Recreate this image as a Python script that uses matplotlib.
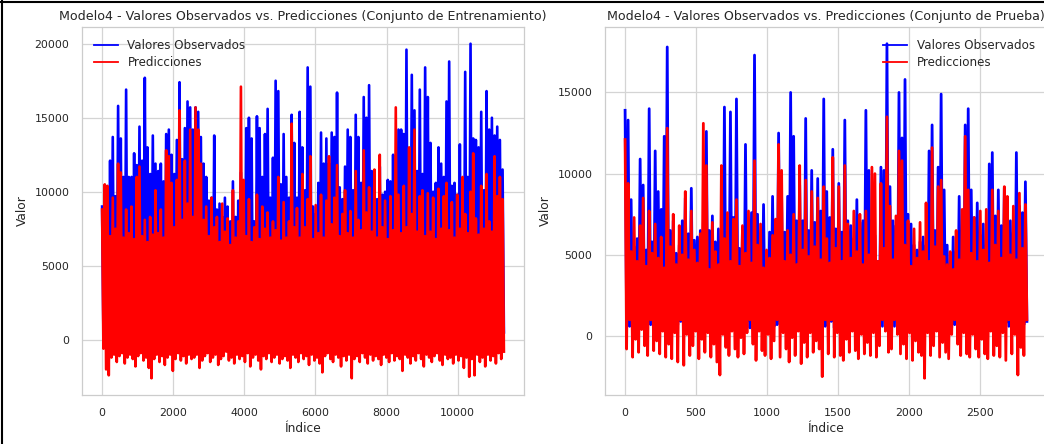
import numpy as np
import matplotlib
matplotlib.use("Agg")
import matplotlib.pyplot as plt
from matplotlib.lines import Line2D

# ---------------- data (values in thousands) ----------------
n_train = 11300
n_test = 2830

# training set: per-window maxima / minima, in index order
train_obs_top = [
    9.0, 10.4, 9.4, 12.1, 13.7, 9.7, 15.8, 13.6, 11.0, 16.9,
    11.0, 11.0, 12.6, 11.8, 14.4, 12.1, 17.7, 13.0, 11.2, 13.8,
    11.9, 11.4, 11.9, 10.7, 13.9, 14.2, 12.5, 11.2, 13.5, 17.4,
    12.2, 14.3, 16.1, 15.7, 14.2, 15.7, 15.4, 13.7, 11.9, 11.0,
    9.4, 9.6, 13.8, 8.8, 9.2, 8.3, 9.6, 9.0, 8.0, 10.7,
    8.3, 9.4, 11.3, 8.5, 14.3, 15.0, 13.6, 8.0, 15.1, 14.3,
    11.0, 13.9, 15.6, 9.6, 12.3, 17.5, 16.8, 10.5, 13.9, 11.0,
    9.6, 15.2, 13.3, 9.6, 15.4, 13.0, 10.1, 18.4, 17.1, 9.0,
    8.5, 10.6, 14.0, 11.9, 13.6, 11.9, 14.0, 13.7, 16.7, 10.3,
    9.5, 11.7, 14.2, 13.7, 10.1, 15.2, 13.7, 10.6, 16.4, 15.0,
    17.2, 11.4, 11.0, 9.5, 11.7, 9.8, 10.0, 10.8, 10.7, 12.5,
    10.5, 14.2, 14.2, 13.9, 19.6, 11.0, 17.9, 15.5, 11.4, 16.9,
    11.2, 18.4, 16.4, 13.3, 10.0, 10.6, 13.0, 11.9, 11.0, 16.1,
    18.8, 10.4, 10.6, 9.8, 13.2, 10.8, 18.1, 11.0, 20.0, 13.6,
    13.5, 13.0, 15.4, 10.1, 16.8, 14.2, 15.0, 13.8, 14.4, 13.5,
    11.5,
]
train_obs_bottom = [
    0.4, 0.6, 0.3, 0.8, 0.5, 0.7, 0.4, 0.9, 0.6, 0.3,
    0.7, 0.5, 0.8, 0.4, 0.6, 0.3, 0.9, 0.5, 0.7, 0.4,
    0.6, 0.8, 0.3, 0.5, 0.7, 0.4, 0.9, 0.6, 0.3, 0.8,
    0.5, 0.7, 0.4, 0.6, 0.9, 0.3, 0.5, 0.8, 0.4, 0.7,
    0.6, 0.3, 0.8, 0.5, 0.4, 0.7, 0.9, 0.6, 0.3, 0.5,
    0.8, 0.4, 0.6, 0.7, 0.3, 0.9, 0.5, 0.4, 0.8, 0.6,
    0.3, 0.7, 0.5, 0.9, 0.4, 0.6, 0.8, 0.3, 0.5, 0.7,
    0.4, 0.9, 0.6, 0.3, 0.8, 0.5, 0.7, 0.4, 0.6, 0.3,
    0.9, 0.5, 0.8, 0.4, 0.7, 0.6, 0.3, 0.5, 0.9, 0.4,
    0.7, 0.6, 0.3, 0.8, 0.5, 0.4, 0.9, 0.6, 0.7, 0.3,
    0.5, 0.8, 0.4, 0.6, 0.3, 0.7, 0.9, 0.5, 0.4, 0.8,
    0.6, 0.3, 0.7, 0.5, 0.9, 0.4, 0.6, 0.8, 0.3, 0.5,
    0.7, 0.4, 0.9, 0.6, 0.3, 0.8, 0.5, 0.7, 0.4, 0.6,
    0.3, 0.9, 0.5, 0.8, 0.4, 0.7, 0.6, 0.3, 0.5, 0.9,
    0.4, 0.7, 0.6, 0.3, 0.8, 0.5, 0.4, 0.9, 0.6, 0.7,
    0.5,
]
train_pred_top = [
    8.8, 10.5, 10.4, 7.0, 9.6, 7.5, 11.9, 11.3, 6.9, 8.8,
    7.2, 9.0, 6.8, 11.0, 11.7, 7.0, 8.1, 6.6, 8.3, 7.1,
    10.1, 7.2, 8.8, 6.9, 12.8, 12.4, 10.6, 7.6, 10.8, 15.5,
    8.1, 12.1, 9.2, 14.2, 8.3, 15.7, 14.2, 11.9, 8.1, 9.0,
    7.0, 9.6, 7.6, 8.3, 6.6, 9.2, 7.3, 8.2, 6.4, 10.1,
    6.9, 8.0, 17.1, 10.8, 7.0, 9.5, 6.6, 7.6, 9.8, 6.8,
    9.0, 7.5, 8.6, 6.9, 8.0, 7.4, 11.0, 6.7, 9.3, 6.9,
    8.0, 14.6, 7.6, 8.9, 6.9, 11.2, 7.6, 9.5, 12.4, 6.8,
    9.1, 7.2, 9.8, 6.9, 9.4, 12.4, 7.8, 9.6, 11.8, 7.0,
    8.5, 10.1, 7.2, 8.7, 6.9, 11.4, 8.1, 7.4, 12.8, 8.6,
    10.3, 7.3, 11.5, 6.9, 12.5, 7.6, 9.4, 6.8, 9.7, 7.4,
    15.7, 9.8, 7.2, 10.4, 7.6, 13.0, 8.5, 14.2, 7.3, 9.7,
    10.1, 7.0, 9.9, 7.3, 9.6, 6.8, 10.2, 7.5, 9.7, 10.6,
    7.4, 9.3, 6.9, 9.8, 7.5, 11.0, 8.5, 7.2, 10.0, 12.6,
    8.2, 7.1, 10.4, 7.5, 11.2, 8.0, 7.3, 12.4, 9.7, 11.0,
    9.5,
]
train_pred_bottom = [
    -0.6, -2.0, -2.4, -1.2, -1.0, -1.5, -1.1, -0.9, -1.6, -1.2,
    -1.0, -1.3, -1.8, -1.1, -0.9, -1.4, -1.2, -1.9, -2.6, -1.3,
    -1.0, -1.5, -1.1, -1.7, -1.2, -1.0, -2.1, -1.3, -0.9, -1.4,
    -1.1, -1.6, -1.0, -1.3, -1.2, -1.0, -1.9, -1.4, -1.1, -0.9,
    -1.5, -1.2, -1.0, -1.7, -1.3, -1.1, -0.8, -1.4, -1.2, -1.6,
    -1.0, -1.3, -1.1, -1.5, -0.9, -1.8, -1.2, -1.0, -1.4, -2.0,
    -1.1, -1.3, -0.9, -1.5, -1.2, -1.0, -1.6, -1.3, -1.1, -1.4,
    -1.9, -1.0, -1.2, -1.5, -0.9, -1.3, -1.1, -1.7, -1.0, -1.4,
    -1.2, -1.6, -2.2, -1.1, -0.9, -1.3, -1.5, -1.0, -1.2, -1.8,
    -1.1, -1.4, -1.0, -2.6, -1.3, -1.1, -1.5, -0.9, -1.2, -1.6,
    -1.0, -1.4, -1.1, -1.3, -1.7, -1.0, -1.2, -1.5, -0.9, -1.4,
    -1.1, -1.3, -2.1, -1.0, -1.2, -1.6, -1.1, -1.4, -0.9, -1.3,
    -1.8, -1.0, -1.2, -1.5, -1.1, -0.9, -1.4, -1.7, -1.0, -1.3,
    -1.2, -1.6, -1.0, -1.4, -1.1, -1.9, -1.2, -2.5, -1.3, -2.4,
    -1.0, -1.5, -1.2, -1.8, -1.0, -1.4, -1.1, -1.6, -0.9, -1.3,
    -0.8,
]

# test set
test_obs_top = [
    13.9, 13.3, 8.4, 5.5, 6.0, 10.9, 9.3, 5.3, 14.0, 5.8,
    11.4, 8.9, 7.8, 12.3, 17.8, 6.5, 7.1, 5.1, 5.6, 7.1,
    8.5, 6.3, 9.1, 5.9, 6.1, 6.5, 7.0, 12.6, 6.5, 7.4,
    5.8, 6.6, 5.6, 14.1, 6.2, 13.8, 7.3, 14.6, 5.4, 6.7,
    11.8, 6.0, 7.6, 17.3, 7.5, 6.3, 8.1, 5.2, 6.4, 8.6,
    7.0, 12.5, 8.6, 6.4, 8.6, 15.0, 12.3, 7.1, 9.3, 7.1,
    13.4, 6.5, 10.2, 7.0, 9.7, 7.7, 14.6, 8.9, 7.3, 11.5,
    6.6, 9.4, 6.4, 13.3, 7.1, 6.8, 6.0, 8.4, 7.0, 7.1,
    13.9, 10.2, 7.1, 6.2, 4.6, 10.4, 10.2, 18.0, 9.2, 7.1,
    6.8, 15.0, 12.2, 15.8, 7.5, 6.9, 5.6, 5.3, 5.8, 6.1,
    5.6, 11.4, 13.0, 6.5, 10.4, 14.9, 9.0, 5.6, 4.3, 6.1,
    5.2, 8.6, 6.5, 13.0, 14.0, 9.0, 7.3, 8.2, 6.2, 6.9,
    5.6, 10.6, 11.3, 7.4, 9.0, 6.8, 9.1, 7.0, 7.1, 6.4,
    11.3, 8.0, 7.6, 9.5,
]
test_obs_bottom = [
    0.9, 0.6, 0.8, 0.5, 0.7, 0.9, 0.6, 0.8, 0.7, 0.5,
    0.8, 0.6, 0.9, 0.7, 0.5, 0.8, 0.6, 0.7, 0.9, 0.5,
    0.7, 0.8, 0.6, 0.9, 0.5, 0.7, 0.8, 0.6, 0.7, 0.9,
    0.5, 0.8, 0.6, 0.7, 0.9, 0.6, 0.5, 0.8, 0.7, 0.6,
    0.9, 0.5, 0.7, 0.8, 0.6, 0.9, 0.7, 0.5, 0.8, 0.6,
    0.7, 0.9, 0.6, 0.5, 0.8, 0.7, 0.6, 0.9, 0.5, 0.7,
    0.8, 0.6, 0.9, 0.7, 0.5, 0.8, 0.6, 0.7, 0.9, 0.5,
    0.7, 0.8, 0.6, 0.9, 0.5, 0.7, 0.8, 0.6, 0.7, 0.9,
    0.5, 0.8, 0.6, 0.7, 0.9, 0.6, 0.5, 0.8, 0.7, 0.6,
    0.9, 0.5, 0.7, 0.8, 0.6, 0.9, 0.7, 0.5, 0.8, 0.6,
    0.7, 0.9, 0.6, 0.5, 0.8, 0.7, 0.6, 0.9, 0.5, 0.7,
    0.8, 0.6, 0.9, 0.7, 0.5, 0.8, 0.6, 0.7, 0.9, 0.5,
    0.7, 0.8, 0.6, 0.9, 0.5, 0.7, 0.8, 0.6, 0.7, 0.9,
    0.6, 0.8, 0.7, 0.9,
]
test_pred_top = [
    12.1, 9.4, 5.2, 7.3, 4.6, 6.8, 8.5, 4.3, 7.7, 5.1,
    6.9, 4.8, 6.1, 4.2, 12.8, 5.5, 7.5, 4.4, 6.8, 5.0,
    8.9, 4.7, 7.7, 5.3, 4.5, 6.3, 13.1, 10.5, 4.1, 7.0,
    5.2, 4.4, 10.5, 6.0, 7.6, 4.6, 7.2, 8.4, 4.3, 6.8,
    5.1, 7.7, 4.5, 10.8, 5.6, 6.9, 4.2, 5.3, 4.8, 6.2,
    7.2, 11.8, 10.2, 4.6, 6.5, 5.0, 7.5, 4.4, 10.5, 5.3,
    9.6, 4.9, 8.9, 5.5, 8.5, 4.7, 9.2, 6.0, 4.5, 11.0,
    5.4, 9.2, 4.6, 10.5, 6.9, 4.8, 7.7, 5.2, 7.5, 4.4,
    7.7, 5.0, 10.4, 10.0, 4.6, 9.4, 5.4, 13.5, 8.0, 4.7,
    7.4, 11.4, 10.8, 5.6, 7.1, 4.3, 6.6, 4.8, 7.0, 5.2,
    8.2, 4.6, 11.6, 5.5, 9.2, 9.6, 4.9, 4.4, 5.2, 4.1,
    6.5, 4.7, 7.8, 12.3, 9.0, 5.1, 7.3, 4.6, 7.7, 5.3,
    7.8, 4.5, 9.0, 5.6, 7.7, 4.8, 9.2, 8.6, 5.0, 8.0,
    4.7, 8.8, 5.4, 8.1,
]
test_pred_bottom = [
    -0.8, 1.0, -1.3, -0.2, -1.0, 0.4, -0.6, -1.2, 1.0, -0.9,
    -0.3, -1.1, 0.3, -1.3, -0.5, -1.4, 0.2, -1.6, 1.0, -1.8,
    0.1, -1.2, -0.6, 0.3, -1.4, -0.2, -1.0, 0.2, -1.3, -0.5,
    -1.6, -2.4, 0.1, -0.7, -1.2, 0.3, -0.8, -1.3, -0.1, -1.1,
    0.2, 1.0, -0.5, -1.5, 0.3, -0.9, -1.2, 0.1, -1.4, -0.3,
    1.0, -1.3, 0.2, -0.8, -1.6, -0.1, -1.2, 0.3, -1.7, -0.4,
    -1.3, 0.2, -1.0, -0.3, -0.8, -2.5, 1.0, -1.1, 1.0, -1.3,
    0.2, -1.2, -1.5, -0.2, -1.0, 0.3, -0.9, -1.4, 0.1, -1.1,
    -0.4, -1.2, 0.2, -1.3, -0.6, 1.0, 0.3, -1.0, -0.8, 1.0,
    0.1, -1.1, -0.5, -1.4, 0.2, -1.5, -0.3, -1.0, -1.2, -2.6,
    0.2, -1.2, -0.6, 0.3, -1.3, -0.4, -1.0, -1.4, 0.1, 1.0,
    -0.5, -1.2, 0.2, -1.1, -1.3, 0.1, -0.8, -1.3, -0.2, -1.1,
    -1.4, 0.3, -1.2, -0.6, -1.3, 0.2, -1.5, 1.0, -1.1, 0.1,
    -2.4, -0.7, -1.2, 1.0,
]

labels = ["Valores Observados", "Predicciones"]
titles = [
    "Modelo4 - Valores Observados vs. Predicciones (Conjunto de Entrenamiento)",
    "Modelo4 - Valores Observados vs. Predicciones (Conjunto de Prueba)",
]


def series(tops, bottoms, n):
    k = min(len(tops), len(bottoms))
    x = np.linspace(0, n - 1, 2 * k)
    y = np.empty(2 * k)
    y[0::2] = np.asarray(tops[:k]) * 1000
    y[1::2] = np.asarray(bottoms[:k]) * 1000
    return x, y


# ---------------- style ----------------
dark = "#262626"
plt.rcParams.update({
    "font.family": ["DejaVu Sans"],
    "axes.edgecolor": "#cccccc",
    "axes.linewidth": 0.9,
    "grid.color": "#d4d4d4",
    "grid.linewidth": 0.9,
    "xtick.color": dark,
    "ytick.color": dark,
    "xtick.labelsize": 7.9,
    "ytick.labelsize": 7.9,
    "text.color": dark,
    "axes.labelcolor": dark,
})

fig = plt.figure(figsize=(10.44, 4.44), dpi=100)
ax1 = fig.add_axes([82 / 1044, 49 / 444, 442 / 1044, 368 / 444])
ax2 = fig.add_axes([605 / 1044, 49 / 444, 442 / 1044, 368 / 444])

panels = [
    (ax1, train_obs_top, train_obs_bottom, train_pred_top, train_pred_bottom, n_train, "upper left", titles[0], 1.9),
    (ax2, test_obs_top, test_obs_bottom, test_pred_top, test_pred_bottom, n_test, "upper right", titles[1], 2.0),
]
for ax, ot, ob, pt, pb, n, loc, title, lw in panels:
    xo, yo = series(ot, ob, n)
    xp, yp = series(pt, pb, n)
    ax.plot(xo, yo, color="blue", lw=lw, label=labels[0], solid_joinstyle="round")
    ax.plot(xp, yp, color="red", lw=lw, label=labels[1], solid_joinstyle="round")
    ax.set_facecolor("white")
    ax.grid(True)
    ax.set_axisbelow(True)
    ax.tick_params(length=0, pad=9)
    for s in ax.spines.values():
        s.set_color("#cccccc")
    ax.set_title(title, fontsize=9.1, pad=5)
    ax.set_xlabel("Índice", fontsize=8.8, labelpad=3)
    ax.set_ylabel("Valor", fontsize=8.8, labelpad=4)
    leg = ax.legend(loc=loc, frameon=False, fontsize=8.6, handlelength=2.0,
                    borderaxespad=0.6, labelspacing=0.35)
    for h in leg.legend_handles:
        h.set_linewidth(1.3)

# screenshot frame (top and left edges)
fig.add_artist(Line2D([0.0015, 0.0015], [0, 1], transform=fig.transFigure, color="black", lw=1.5))
fig.add_artist(Line2D([0, 1], [0.9965, 0.9965], transform=fig.transFigure, color="black", lw=1.5))

fig.savefig("out.png", dpi=100, facecolor="white")
